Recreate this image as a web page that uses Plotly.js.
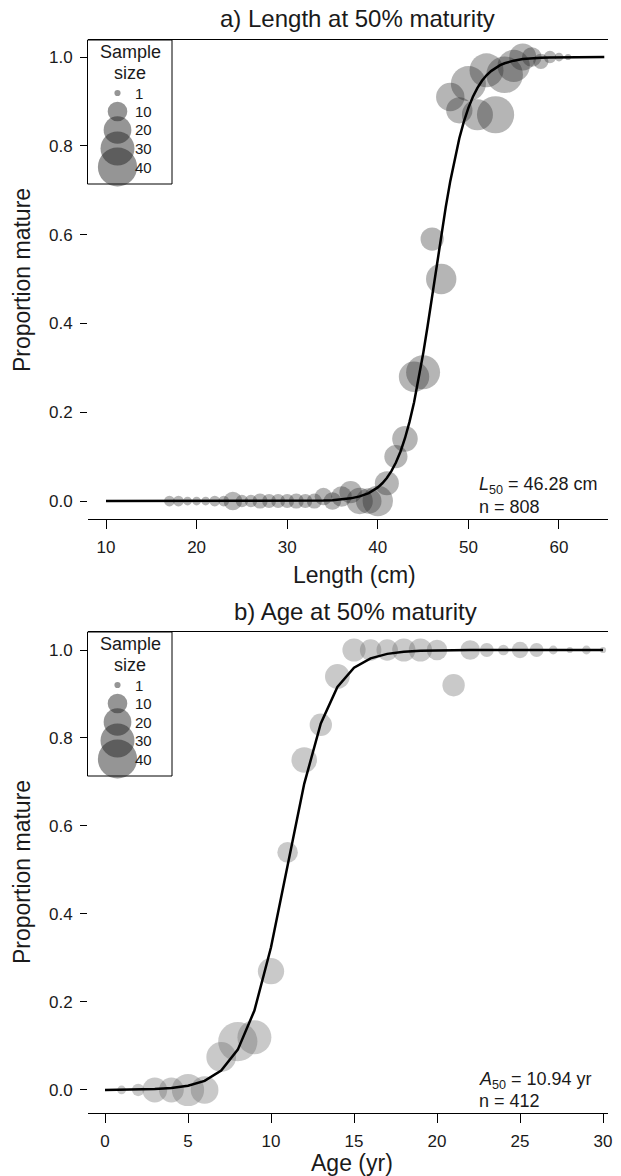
<!DOCTYPE html>
<html>
<head>
<meta charset="utf-8">
<script src="https://cdn.plot.ly/plotly-3.0.1.min.js"></script>
<style>html,body{margin:0;padding:0;background:#fff;}#chart{width:621px;height:1176px;}</style>
</head>
<body>
<div id="chart"></div>
<script>
// ---------- Data: panel a (length) ----------
const lengthCm = [17,18,19,20,21,22,23,24,25,26,27,28,29,30,31,32,33,34,35,36,37,38,39,40,41,42,43,44,45,46,47,48,49,50,51,52,53,54,55,56,57,58,59,60,61];
const propMatureLen = [0,0,0,0,0,0,0,0,0,0,0,0,0,0,0,0,0,0.01,0,0.01,0.02,0,0,0,0.04,0.10,0.14,0.28,0.29,0.59,0.50,0.91,0.88,0.94,0.87,0.97,0.87,0.96,0.98,1.0,1.0,0.99,1.0,1.0,1.0];
const sampleLen = [3,3,2,2,2,3,3,9,4,4,6,5,5,5,6,5,6,8,8,11,13,18,17,24,15,14,17,24,30,14,24,21,18,32,25,30,36,35,27,19,10,6,4,2,1];
const fitLenX = [10,12,14,16,18,20,22,24,26,28,30,32,34,35,36,37,38,39,40,40.5,41,41.5,42,42.5,43,43.5,44,44.5,45,45.5,46,46.5,47,47.5,48,48.5,49,49.5,50,50.5,51,51.5,52,52.5,53,53.5,54,55,56,57,58,59,60,61,62,63,64,65];
const fitLenY = [0,0,0,0,0,0,0,0,0,0.0001,0.0001,0.0004,0.0012,0.002,0.0035,0.006,0.0104,0.0179,0.0306,0.04,0.0519,0.0673,0.0867,0.1111,0.1414,0.1782,0.222,0.2731,0.3309,0.3943,0.4616,0.5302,0.5977,0.6618,0.7204,0.7722,0.817,0.8546,0.8855,0.9106,0.9306,0.9464,0.9588,0.9683,0.9758,0.9815,0.9859,0.9918,0.9953,0.9973,0.9984,0.9991,0.9995,0.9997,0.9998,0.9999,0.9999,1.0];
const xTicksLen = [10,20,30,40,50,60];

// ---------- Data: panel b (age) ----------
const ageYr = [1,2,3,4,5,6,7,8,9,10,11,12,13,14,15,16,17,18,19,20,21,22,23,24,25,26,27,28,29,30];
const propMatureAge = [0,0,0,0,0,0,0.075,0.11,0.12,0.27,0.54,0.75,0.83,0.94,1.0,1.0,1.0,1.0,1.0,1.0,0.92,1.0,1.0,1.0,1.0,1.0,1.0,1.0,1.0,1.0];
const sampleAge = [2,4,16,16,27,20,23,40,30,18,11,17,13,16,14,12,12,14,14,11,13,10,5,3,7,5,2,1,2,1];
const fitAgeX = [0,1,2,3,4,5,6,7,8,9,10,11,12,13,14,15,16,17,18,19,20,21,22,23,24,25,26,27,28,29,30];
const fitAgeY = [0.0002,0.0004,0.0009,0.002,0.0044,0.0096,0.0208,0.0442,0.0917,0.1805,0.3245,0.5117,0.6958,0.833,0.9158,0.9596,0.9811,0.9912,0.996,0.9981,0.9991,0.9996,0.9998,0.9999,1,1,1,1,1,1,1];
const xTicksAge = [0,5,10,15,20,25,30];

const yTicks = [0,0.2,0.4,0.6,0.8,1.0];
const legendSizes = [1,10,20,30,40];

// ---------- helpers ----------
const W = 621, H = 1176;
const px = x => x / W;
const py = y => 1 - y / H;
const DIAM = n => 6.2 * Math.sqrt(n);
const FONT = 'Liberation Sans, Arial, sans-serif';
const INK = '#1a1a1a';
const colA = 'rgba(30,30,30,0.47)';
const colB = 'rgba(100,100,100,0.5)';

const traces = [
  {x: lengthCm, y: propMatureLen, xaxis:'x', yaxis:'y', mode:'markers', type:'scatter', cliponaxis:false,
   marker:{size: sampleLen.map(DIAM), sizemode:'diameter', color: colA, line:{width:0}}},
  {x: fitLenX, y: fitLenY, xaxis:'x', yaxis:'y', mode:'lines', type:'scatter', line:{color:'#000', width:2.5}},
  {x: ageYr, y: propMatureAge, xaxis:'x2', yaxis:'y2', mode:'markers', type:'scatter', cliponaxis:false,
   marker:{size: sampleAge.map(DIAM), sizemode:'diameter', color: colB, line:{width:0}}},
  {x: fitAgeX, y: fitAgeY, xaxis:'x2', yaxis:'y2', mode:'lines', type:'scatter', line:{color:'#000', width:2.5}}
];

function xAxis(range, ticks, anchor){
  return {domain:[px(88), px(608)], range: range, anchor: anchor, tickmode:'array', tickvals: ticks,
    ticktext: ticks.map(String), ticks:'outside', ticklen:9, tickwidth:1, tickcolor:'#000',
    showline:true, linecolor:'#000', linewidth:1, mirror:true, showgrid:false, zeroline:false,
    ticklabelstandoff:4, tickfont:{family:FONT, size:17, color:INK}};
}
function yAxis(top, bot, range, anchor){
  return {domain:[py(bot), py(top)], range: range, anchor: anchor, tickmode:'array', tickvals: yTicks,
    ticktext: yTicks.map(v => v.toFixed(1)), ticks:'outside', ticklen:7, tickwidth:1, tickcolor:'#000',
    showline:false, showgrid:false, zeroline:false, ticklabelstandoff:4,
    tickfont:{family:FONT, size:17, color:INK}};
}

const shapes = [];
const annotations = [];

function legend(top){
  shapes.push({type:'rect', xref:'paper', yref:'paper', x0:px(87.5), x1:px(172), y0:py(top+144), y1:py(top),
    line:{color:'#000', width:1}, fillcolor:'#fff', layer:'above'});
  legendSizes.forEach((n, i) => {
    const cy = py(top + 53 + i * 18.5);
    const d = DIAM(n);
    shapes.push({type:'circle', xref:'paper', yref:'paper', xsizemode:'pixel', ysizemode:'pixel',
      xanchor:px(117.5), yanchor:cy, x0:-d/2, x1:d/2, y0:-d/2, y1:d/2,
      fillcolor: colA, line:{width:0}, layer:'above'});
    annotations.push({xref:'paper', yref:'paper', x:px(133), y:cy, xanchor:'left', yanchor:'middle',
      text:String(n), showarrow:false, font:{family:FONT, size:15, color:INK}});
  });
  annotations.push({xref:'paper', yref:'paper', x:px(130), y:py(top+12), xanchor:'center', yanchor:'middle',
    text:'Sample', showarrow:false, font:{family:FONT, size:18, color:INK}});
  annotations.push({xref:'paper', yref:'paper', x:px(130), y:py(top+33), xanchor:'center', yanchor:'middle',
    text:'size', showarrow:false, font:{family:FONT, size:18, color:INK}});
}
legend(40);
legend(632);

const txt = (x, y, text, size, opts) => Object.assign({xref:'paper', yref:'paper', x:px(x), y:py(y),
  text:text, showarrow:false, xanchor:'center', yanchor:'middle', font:{family:FONT, size:size, color:INK}}, opts||{});

annotations.push(txt(357, 19, 'a) Length at 50% maturity', 24));
annotations.push(txt(355, 611, 'b) Age at 50% maturity', 24));
annotations.push(txt(354, 575, 'Length (cm)', 23));
annotations.push(txt(352, 1163, 'Age (yr)', 23));
annotations.push(txt(22, 280, 'Proportion mature', 23, {textangle:-90}));
annotations.push(txt(22, 872, 'Proportion mature', 23, {textangle:-90}));
annotations.push(txt(477, 486, '<i>L</i><sub>50</sub> = 46.28 cm', 18, {xanchor:'left'}));
annotations.push(txt(477, 507, 'n = 808', 18, {xanchor:'left'}));
annotations.push(txt(477, 1080, '<i>A</i><sub>50</sub> = 10.94 yr', 18, {xanchor:'left'}));
annotations.push(txt(477, 1101, 'n = 412', 18, {xanchor:'left'}));

const layout = {
  width: W, height: H, margin:{l:0, r:0, t:0, b:0}, showlegend:false,
  paper_bgcolor:'#fff', plot_bgcolor:'#fff', font:{family:FONT, color:INK},
  xaxis: xAxis([8.013, 65.41], xTicksLen, 'y'),
  yaxis: yAxis(40, 519, [-0.0405, 1.0383], 'x'),
  xaxis2: xAxis([-1.024, 30.30], xTicksAge, 'y2'),
  yaxis2: yAxis(632, 1113, [-0.0523, 1.0409], 'x2'),
  shapes: shapes, annotations: annotations
};

Plotly.newPlot('chart', traces, layout, {staticPlot:true, displayModeBar:false});
</script>
</body>
</html>
